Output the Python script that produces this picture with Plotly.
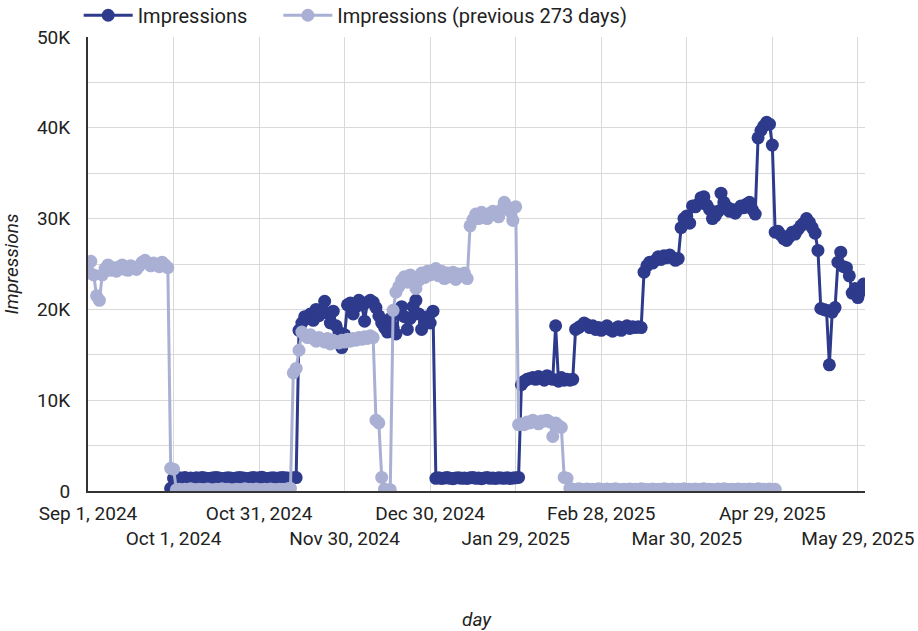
import pandas as pd
import plotly.graph_objects as go

# ---------------- data ----------------
days = pd.date_range("2024-09-01", "2025-05-31", freq="D")

impressions = (
    [None] * 29
    + [300]
    + [1400, 1350, 1450, 1400, 1500, 1380, 1420, 1350, 1450, 1400,
       1480, 1420, 1380, 1400, 1450, 1500, 1420, 1350, 1400, 1460,
       1430, 1380, 1420, 1500, 1450, 1400, 1360, 1420, 1480, 1400,
       1450, 1520, 1400, 1380, 1430, 1460, 1400, 1420, 1500, 1450,
       1420, 1380, 1450, 1480]
    + [17700, 18500, 19200, 19000, 19500, 18800, 20000, 19300, 19800, 20900,
       19600, 18500, 19800, 18200, 17500, 15800, 17200, 20500, 20700, 19500,
       20300, 21000, 20500, 18700, 20800, 21000, 20800, 20200, 19300, 18500,
       18000, 17500, 19000, 18000, 17300, 19500, 20300, 19200, 17800, 19000,
       20300, 21000, 19500, 17800, 18500, 19200, 18500, 19800]
    + [1400, 1450, 1380, 1420, 1500, 1400, 1350, 1430, 1460, 1400,
       1420, 1380, 1450, 1500, 1400, 1420, 1360, 1440, 1480, 1400,
       1430, 1390, 1450, 1420, 1400, 1470, 1380, 1420, 1450, 1500]
    + [11700, 12100, 12300, 12400, 12500, 12300, 12600, 12400, 12200, 12700,
       12400, 12300, 18200, 12100, 12500, 12200, 12300, 12200, 12300, 17800,
       18000, 18200, 18500, 18300, 18000, 18200, 17800, 18000, 17700, 17900,
       18200, 17800, 17600, 17900, 18100, 17700, 18000, 18200, 17900, 18100,
       18000, 18100, 18000]
    + [24100, 24800, 25200, 25100, 25400, 25800, 25500, 25900, 25700, 26000,
       25700, 25400, 25600, 29000, 30000, 30300, 29500, 31400, 31300, 31600,
       32300, 32400, 31500, 31000, 30000, 30300, 30800, 32800, 31800, 31300,
       30800, 31000, 30600, 31000, 31400, 31200, 31600, 31800, 31000, 30500,
       38900, 39700, 40200, 40600, 40400, 38100]
    + [28500, 28600, 28200, 27800, 27600, 28000, 28500, 28300, 28800, 29200,
       29500, 30000, 29600, 29000, 28400, 26500, 20100, 20000, 19900, 13900,
       19700, 20200, 25200, 26300, 24700, 24600, 23700, 21800, 22300, 21300,
       22000, 22800]
)

impressions_prev = (
    [24000, 25300, 23800, 21500, 21000, 23800, 24500, 24900, 24300, 24600,
     24200, 24700, 24900, 24400, 24300, 24800, 24600, 24400, 24800, 25200,
     25400, 25100, 24800, 25100, 24900, 24700, 25200, 24900, 24600]
    + [2500, 2400]
    + [150, 200, 120, 180, 100, 250, 160, 140, 200, 130,
       170, 220, 150, 110, 180, 160, 240, 130, 190, 150,
       120, 200, 170, 140, 260, 150, 180, 130, 210, 160,
       140, 190, 120, 230, 170, 150, 200, 180, 140, 260,
       300]
    + [13000, 13500, 15500, 17500, 17200, 16900, 17200, 16800, 16500, 16900,
       16700, 16400, 16800, 16200, 16600, 16400, 16300, 16600, 16400, 16700,
       16500, 16800, 16600, 16900, 16700, 17000, 16800, 17100, 16900]
    + [7800, 7500, 1500, 200, 100, 150]
    + [19900, 21900, 22500, 23200, 23600, 23000, 23800, 23400, 22300, 23200,
       24000, 23500, 24200, 23800, 24300, 24500, 23700, 24200, 23400, 24000,
       23600, 24100, 23300, 23900, 23700, 24000, 23400, 29200, 29900, 30500,
       30000, 30700, 30300, 30000, 30600, 30800, 30400, 30200, 31000, 31800,
       31300, 30800, 29800, 31300]
    + [7300, 7400, 7300, 7600, 7500, 7800, 7600, 7400, 7700, 7700,
       7800, 7600, 6000, 7500, 7200, 7000, 1500, 1400]
    + [300, 200, 150, 250, 180, 120, 220, 160, 200, 140,
       260, 180, 150, 210, 130, 190, 240, 170, 150, 200,
       120, 230, 160, 180, 140, 250, 200, 150, 170, 220,
       130, 190, 160, 240, 180, 140, 210, 150, 200, 170,
       260, 130, 190, 160, 220, 150, 180, 240, 140, 200,
       170, 130, 210, 160, 250, 180, 150, 200, 140, 230,
       170, 190, 150, 220, 160, 130, 240, 180, 200, 150,
       210, 170, 190]
    + [None] * 31
)

x_tick_dates = ["2024-09-01", "2024-10-01", "2024-10-31", "2024-11-30", "2024-12-30",
                "2025-01-29", "2025-02-28", "2025-03-30", "2025-04-29", "2025-05-29"]
x_tick_labels = ["Sep 1, 2024", "Oct 1, 2024", "Oct 31, 2024", "Nov 30, 2024", "Dec 30, 2024",
                 "Jan 29, 2025", "Feb 28, 2025", "Mar 30, 2025", "Apr 29, 2025", "May 29, 2025"]
y_tick_vals = [0, 10000, 20000, 30000, 40000, 50000]
y_tick_labels = ["0", "10K", "20K", "30K", "40K", "50K"]
y_minor_vals = [5000, 15000, 25000, 35000, 45000]

DARK = "#2e3a8c"
LIGHT = "#a9b0d4"
GRID = "#d9d9d9"

# staggered tick labels (every other one on a second row)
staggered = [t if i % 2 == 0 else "<br>" + t for i, t in enumerate(x_tick_labels)]

fig = go.Figure()
fig.add_trace(go.Scatter(
    x=days, y=impressions, name="Impressions", mode="lines+markers",
    line=dict(color=DARK, width=3), marker=dict(color=DARK, size=13),
    legend="legend",
))
fig.add_trace(go.Scatter(
    x=days, y=impressions_prev, name="Impressions (previous 273 days)", mode="lines+markers",
    line=dict(color=LIGHT, width=3), marker=dict(color=LIGHT, size=13),
    legend="legend2",
))

legend_common = dict(orientation="h", y=1.005, yanchor="bottom", xanchor="left",
                     font=dict(size=20), itemwidth=49, bgcolor="rgba(0,0,0,0)")

fig.update_layout(
    width=918, height=631,
    margin=dict(l=88, r=53, t=37, b=140, autoexpand=False),
    paper_bgcolor="white", plot_bgcolor="white",
    font=dict(family="Roboto", size=19, color="#222222"),
    legend=dict(x=-0.012, **legend_common),
    legend2=dict(x=0.245, **legend_common),
    showlegend=True,
)
fig.update_xaxes(
    type="date", range=["2024-09-01", "2025-05-31 12:00"], automargin=False,
    tickmode="array", tickvals=x_tick_dates, ticktext=staggered, tickangle=0,
    ticklabelstandoff=4,
    showgrid=True, gridcolor=GRID, gridwidth=1,
    showline=True, linecolor="#333333", linewidth=2, zeroline=False,
    title=dict(text="day", font=dict(style="italic", size=19), standoff=64),
)
fig.update_yaxes(
    range=[0, 50000], tickmode="array", tickvals=y_tick_vals, ticktext=y_tick_labels,
    automargin=False, ticklabelstandoff=12,
    showgrid=True, gridcolor=GRID, gridwidth=1,
    minor=dict(tickmode="array", tickvals=y_minor_vals, showgrid=True, gridcolor=GRID, gridwidth=1),
    showline=True, linecolor="#333333", linewidth=2, zeroline=False,
    title=dict(text="Impressions", font=dict(style="italic", size=19), standoff=13),
)

fig.write_html(
    "out.html",
    config={"displayModeBar": False},
    post_script="document.body.style.margin='0';document.body.style.overflow='hidden';",
)
